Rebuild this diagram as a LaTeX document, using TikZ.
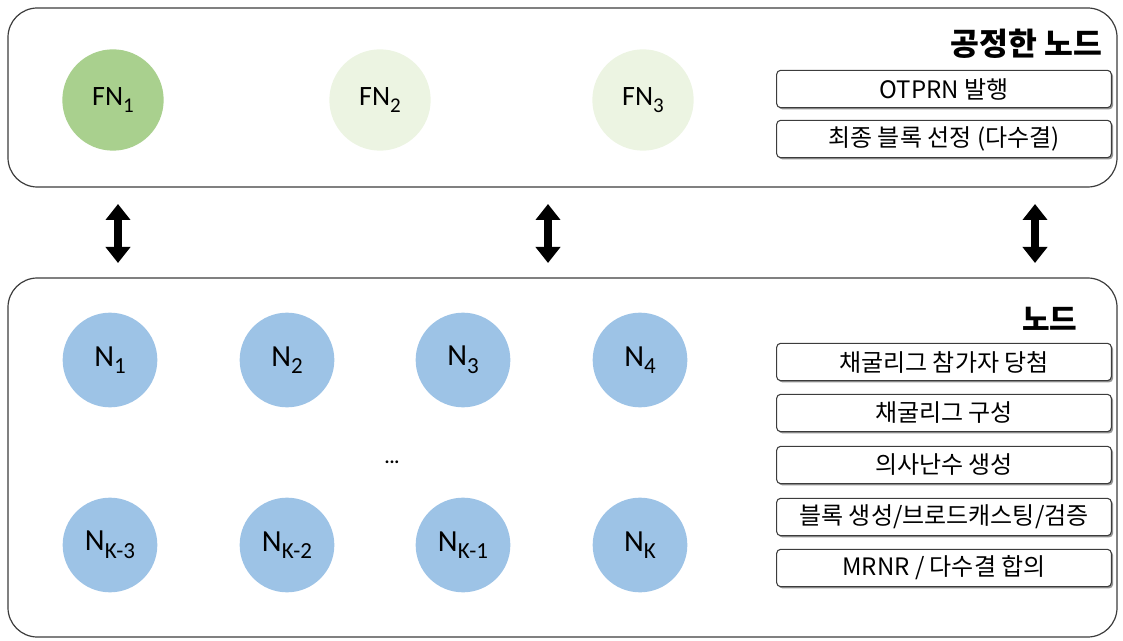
\documentclass[tikz,border=0pt]{standalone}
\usepackage{fontspec}
\setmainfont{Carlito}
\newfontfamily\kr{Noto Sans CJK KR}
\usetikzlibrary{arrows.meta,shadows,fit}

\definecolor{fndark}{RGB}{169,208,142}
\definecolor{fnlight}{RGB}{236,244,226}
\definecolor{nblue}{RGB}{157,195,230}
\definecolor{framegray}{RGB}{60,60,60}

% subscript for the node labels
\newcommand{\lsub}[1]{\raisebox{-0.25em}{\fontsize{0.75em}{1em}\selectfont #1}}

\begin{document}
\begin{tikzpicture}[x=0.75pt,y=-0.75pt,
	frame/.style={draw=framegray, line width=0.9pt, rounded corners=22pt, inner sep=0pt},
	fnode/.style={circle, minimum size=76pt, inner sep=0pt, font=\fontsize{21}{24}\selectfont},
	nnode/.style={circle, fill=nblue, minimum size=71pt, inner sep=0pt, font=\fontsize{23}{26}\selectfont},
	task/.style={draw=framegray, fill=white, line width=0.8pt, rounded corners=3pt,
		minimum width=251pt, minimum height=28pt, inner sep=0pt, font=\kr\fontsize{18}{20}\selectfont,
		drop shadow={shadow xshift=1.3pt, shadow yshift=-1.3pt, fill=black!60, opacity=0.7}},
	head/.style={anchor=east, font=\kr\bfseries\fontsize{23.5}{26}\selectfont},
	dbl/.style={line width=5.5pt, {Triangle[length=12pt,width=18pt]}-{Triangle[length=12pt,width=18pt]}}]
	\useasboundingbox (0,0) rectangle (1123,641);

	% fair nodes
	\node (top) [frame, fit={(8,8) (1117,187)}] {};
	\node (FN1) at (113, 100)	[fnode, fill=fndark]	{FN\lsub{1}};
	\node (FN2) at (380, 100)	[fnode, fill=fnlight]	{FN\lsub{2}};
	\node (FN3) at (643, 100)	[fnode, fill=fnlight]	{FN\lsub{3}};
	\node (fhead) at (1107, 44)	[head]	{공정한 노드};
	\node (otprn) at (944, 89)	[task]	{OTPRN 발행};
	\node (final) at (944, 139)	[task]	{최종 블록 선정 (다수결)};

	% links
	\foreach \i/\x in {1/118, 2/548, 3/1035} {
		\coordinate (u\i) at (\x, 204);
		\coordinate (d\i) at (\x, 263);
		\draw[dbl] (u\i) -- (d\i);
	}

	% nodes
	\node (bot) [frame, fit={(8,278) (1117,637)}] {};
	\node (N1) at (110, 360)	[nnode]	{N\lsub{1}};
	\node (N2) at (287, 360)	[nnode]	{N\lsub{2}};
	\node (N3) at (463, 360)	[nnode]	{N\lsub{3}};
	\node (N4) at (640, 360)	[nnode]	{N\lsub{4}};
	\node (dots) at (392, 462)	[font=\bfseries\fontsize{14}{16}\selectfont]	{...};
	\node (NK3) at (110, 545)	[nnode]	{N\lsub{K-3}};
	\node (NK2) at (287, 545)	[nnode]	{N\lsub{K-2}};
	\node (NK1) at (463, 545)	[nnode]	{N\lsub{K-1}};
	\node (NK) at (640, 545)	[nnode]	{N\lsub{K}};
	\node (nhead) at (1082, 319)	[head, font=\kr\bfseries\fontsize{22.5}{25}\selectfont]	{노드};
	\node (win) at (944, 362)	[task]	{채굴리그 참가자 당첨};
	\node (league) at (944, 413)	[task]	{채굴리그 구성};
	\node (prng) at (944, 465)	[task]	{의사난수 생성};
	\node (block) at (944, 517)	[task]	{블록 생성/브로드캐스팅/검증};
	\node (mrnr) at (944, 568)	[task]	{MRNR / 다수결 합의};
\end{tikzpicture}
\end{document}
